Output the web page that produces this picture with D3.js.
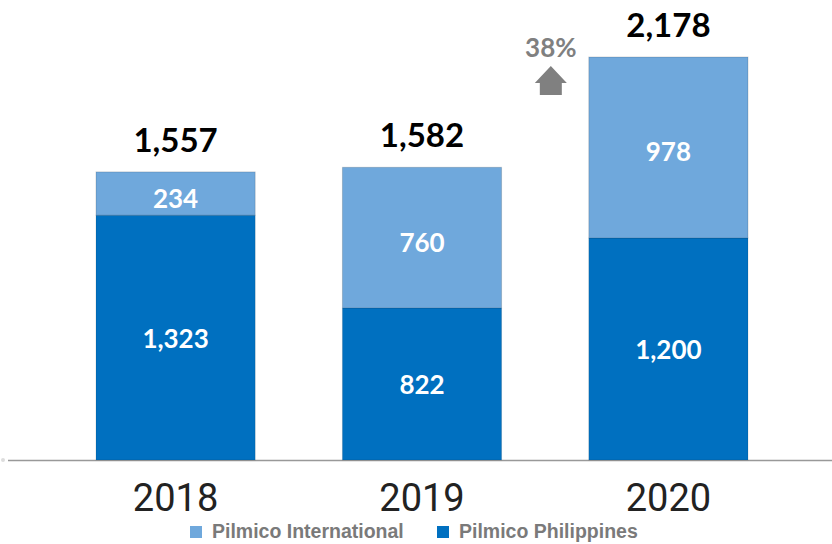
<!DOCTYPE html>
<head>
    <script src="https://d3js.org/d3.v7.min.js"></script>
    <style>
        body { margin: 0; background: white; }
        .total { font: bold 33px Lato, sans-serif; fill: #000; text-anchor: middle; }
        .inner { font: bold 26px Lato, sans-serif; fill: white; text-anchor: middle; dominant-baseline: central; }
        .year { font: 38px Roboto, sans-serif; fill: #222; text-anchor: middle; }
        .legend text { font-family: "Liberation Sans", Arial, sans-serif; font-weight: bold; font-size: 19.5px; fill: #7a7a7a; }
    </style>
</head>
<body>
    <svg width="832" height="544"></svg>
</body>
<script>
    var years = ["2018", "2019", "2020"]
    var philippines = [1323, 822, 1200]
    var international = [234, 760, 978]
    var totals = [1557, 1582, 2178]
    var seriesNames = ["Pilmico International", "Pilmico Philippines"]
    var colors = { "Pilmico International": "#6fa8dc", "Pilmico Philippines": "#0070c0" }
    var growth = "38%"

    var svg = d3.select("svg")
    var base = 460

    var x = d3.scaleBand().domain(years).range([96, 748]).paddingInner(0.354).paddingOuter(0)
    var y = d3.scaleLinear().domain([0, 2178]).range([base, 57])

    var rows = years.map((yr, i) => ({ year: yr, phil: philippines[i], intl: international[i], total: totals[i] }))

    // baseline
    svg.append("line").attr("x1", 8).attr("x2", 832).attr("y1", base + 0.5).attr("y2", base + 0.5)
        .attr("stroke", "#999").attr("stroke-width", 1.5)
    svg.append("circle").attr("cx", 3).attr("cy", base).attr("r", 2).attr("fill", "#ddd")

    var g = svg.selectAll("g.bar").data(rows).enter().append("g").attr("class", "bar")

    g.append("rect")
        .attr("x", d => x(d.year))
        .attr("width", x.bandwidth())
        .attr("y", d => y(d.phil))
        .attr("height", d => base - y(d.phil))
        .attr("fill", colors["Pilmico Philippines"])
        .attr("stroke", "rgba(0,0,0,0.12)")

    g.append("rect")
        .attr("x", d => x(d.year))
        .attr("width", x.bandwidth())
        .attr("y", d => y(d.phil + d.intl))
        .attr("height", d => y(d.phil) - y(d.phil + d.intl))
        .attr("fill", colors["Pilmico International"])
        .attr("stroke", "rgba(0,0,0,0.15)")

    g.append("text").attr("class", "inner")
        .attr("x", d => x(d.year) + x.bandwidth() / 2)
        .attr("y", d => (base + y(d.phil)) / 2)
        .text(d => d3.format(",")(d.phil))

    g.append("text").attr("class", "inner")
        .attr("x", d => x(d.year) + x.bandwidth() / 2)
        .attr("y", d => (y(d.phil) + y(d.phil + d.intl)) / 2 + 4)
        .text(d => d3.format(",")(d.intl))

    g.append("text").attr("class", "total")
        .attr("x", d => x(d.year) + x.bandwidth() / 2)
        .attr("y", d => y(d.total) - 20)
        .text(d => d3.format(",")(d.total))

    g.append("text").attr("class", "year")
        .attr("x", d => x(d.year) + x.bandwidth() / 2)
        .attr("y", 511)
        .text(d => d.year)

    // growth marker beside last bar
    var gx = x(years[2]) - 38
    svg.append("text").attr("x", gx).attr("y", 57).attr("text-anchor", "middle")
        .style("font", "bold 26px Lato, sans-serif").attr("fill", "#808080").text(growth)
    svg.append("path")
        .attr("d", "M" + (gx - 16) + ",83 L" + gx + ",66 L" + (gx + 16) + ",83 L" + (gx + 11) + ",83 L" + (gx + 11) + ",95 L" + (gx - 11) + ",95 L" + (gx - 11) + ",83 Z")
        .attr("fill", "#808080")

    // legend
    var legend = svg.append("g").attr("class", "legend")
    var lx = [190, 437]
    seriesNames.forEach((name, i) => {
        legend.append("rect").attr("x", lx[i]).attr("y", 526).attr("width", 12).attr("height", 12).attr("fill", colors[name])
        legend.append("text").attr("x", lx[i] + 22).attr("y", 538).text(name)
    })
</script>
